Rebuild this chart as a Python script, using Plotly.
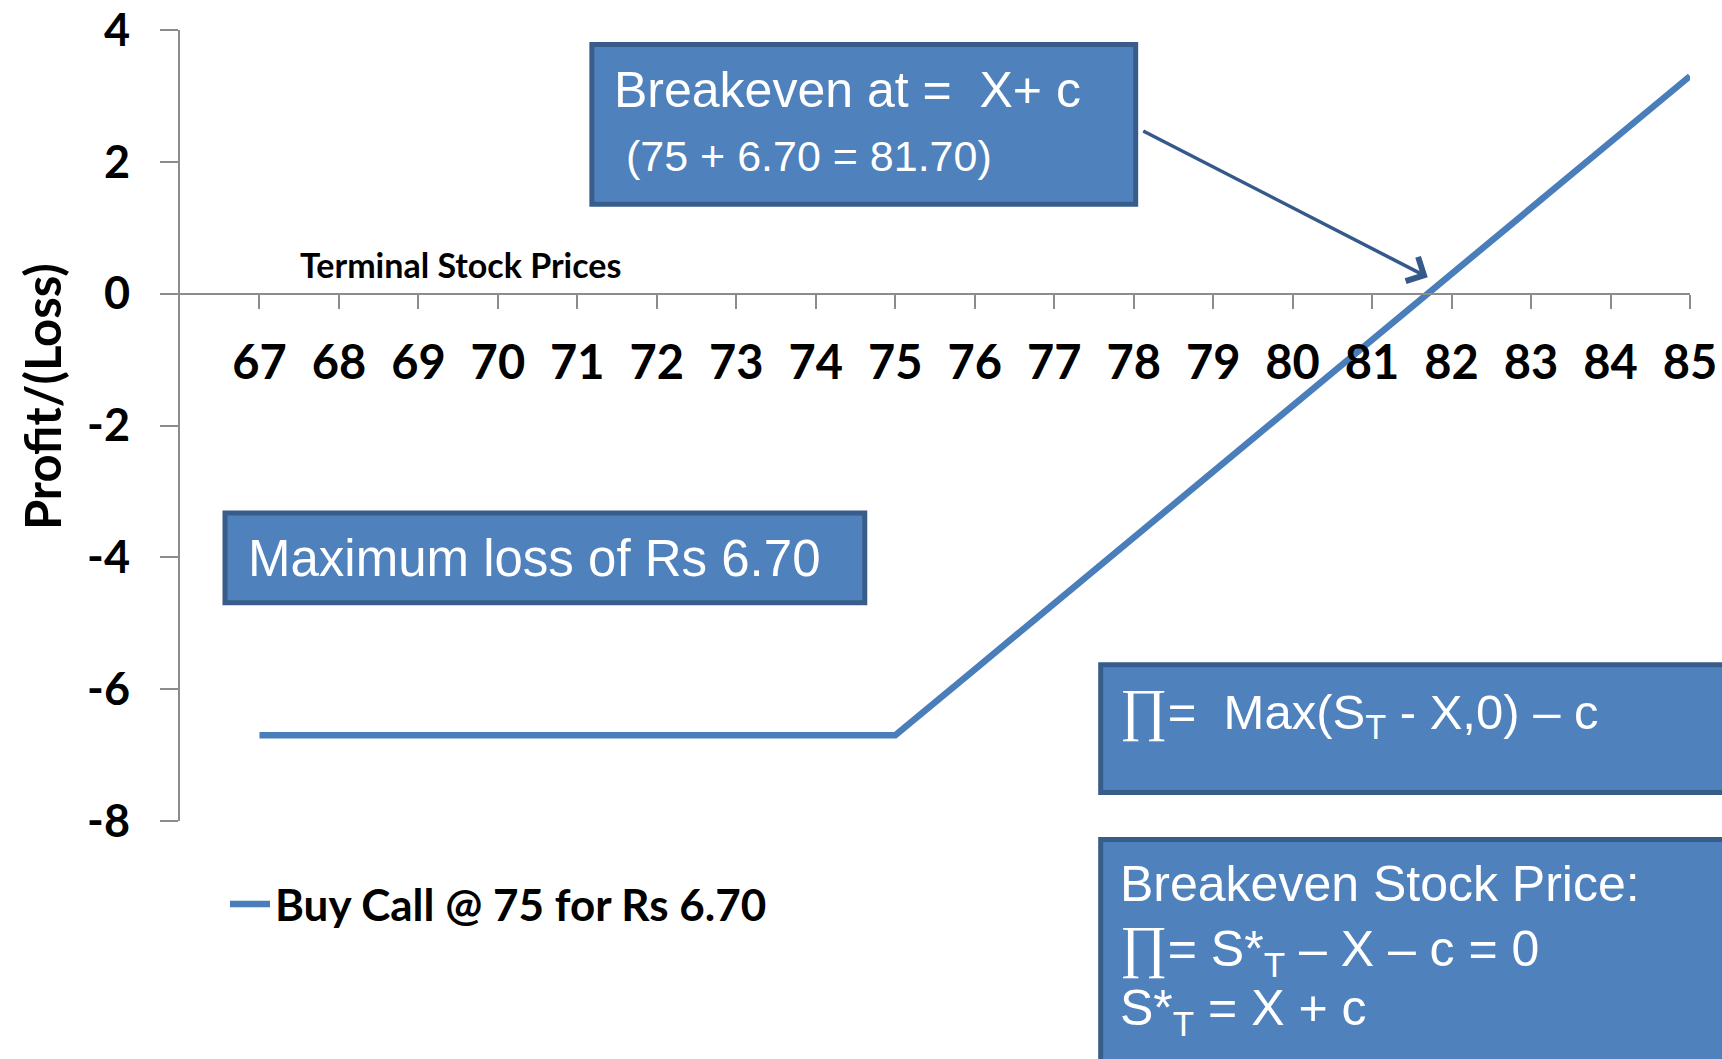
import plotly.graph_objects as go

# ---- data ----
terminal_prices = [67, 68, 69, 70, 71, 72, 73, 74, 75, 76, 77, 78, 79, 80, 81, 82, 83, 84, 85]
profit_loss = [-6.7, -6.7, -6.7, -6.7, -6.7, -6.7, -6.7, -6.7, -6.7,
               -5.7, -4.7, -3.7, -2.7, -1.7, -0.7, 0.3, 1.3, 2.3, 3.3]
y_ticks = [4, 2, 0, -2, -4, -6, -8]
series_name = "Buy Call @ 75 for Rs 6.70"

# ---- layout geometry (pixels) ----
W, H = 1722, 1059
PL, PR, PT, PB = 180, 1690.5, 29.5, 821.5   # plot area edges


def px(x):
    return (x - PL) / (PR - PL)


def py(y):
    return (PB - y) / (PB - PT)


BLUE = "#4a7ebb"
BOX_FILL = "#4f81bd"
BOX_LINE = "#385d8a"
ARROW = "#34598a"
BOLD_FONT = "Lato"
BOX_FONT = "Liberation Sans Narrow, Arial Narrow, Liberation Sans, sans-serif"
PI = '<span style="font-family:Liberation Serif;font-size:58px">∏</span>'

fig = go.Figure()
fig.add_trace(go.Scatter(
    x=terminal_prices, y=profit_loss, mode="lines", name=series_name,
    line=dict(color=BLUE, width=6.5), showlegend=True,
))

shapes = []
boxes = [(592, 44, 1136, 204), (225, 513, 865, 603), (1101, 665, 1740, 793), (1101, 840, 1740, 1075)]
for x0, y0, x1, y1 in boxes:
    shapes.append(dict(type="rect", xref="paper", yref="paper",
                       x0=px(x0), x1=px(x1), y0=py(y0), y1=py(y1),
                       fillcolor=BOX_FILL, line=dict(color=BOX_LINE, width=5), layer="above"))

ann = []


def text(x, y, s, size, font=BOX_FONT, color="white", anchor="left"):
    ann.append(dict(x=px(x), y=py(y), xref="paper", yref="paper", text=s, showarrow=False,
                    xanchor=anchor, yanchor="middle", font=dict(family=font, size=size, color=color)))


text(612, 90, "Breakeven at =  X+ c", 50)
text(624, 156, "(75 + 6.70 = 81.70)", 43)
text(246, 559, "Maximum loss of Rs 6.70", 51)
text(1118, 712, PI + "=  Max(S<sub>T</sub> - X,0) – c", 49)
text(1118, 885, "Breakeven Stock Price:", 50)
text(1118, 950, PI + "= S*<sub>T</sub> – X – c = 0", 50)
text(1118, 1012, "S*<sub>T</sub> = X + c", 50)
text(298, 264, "<b>Terminal Stock Prices</b>", 34, font=BOLD_FONT, color="black")

# y-axis title
ann.append(dict(x=px(42), y=py(397), xref="paper", yref="paper", text="<b>Profit/(Loss)</b>",
                showarrow=False, textangle=-90, xanchor="center", yanchor="middle",
                font=dict(family=BOLD_FONT, size=49, color="black")))

# arrow to breakeven point
ann.append(dict(x=81.7, y=0.25, xref="x", yref="y", ax=-286, ay=-147, axref="pixel", ayref="pixel",
                text="", showarrow=True, arrowhead=4, arrowsize=1.5, arrowwidth=3.5, arrowcolor=ARROW))

fig.update_layout(
    width=W, height=H,
    margin=dict(l=PL, r=W - PR, t=PT, b=H - PB, autoexpand=False),
    paper_bgcolor="white", plot_bgcolor="white",
    shapes=shapes, annotations=ann,
    showlegend=True,
    legend=dict(x=px(225), y=py(905), xanchor="left", yanchor="middle",
                font=dict(family=BOLD_FONT, size=44, color="black", weight="bold"),
                bgcolor="rgba(0,0,0,0)", itemwidth=40),
    font=dict(family=BOLD_FONT, color="black"),
)

fig.update_xaxes(
    range=[66, 85], tickvals=terminal_prices, ticktext=[f"<b>{v}</b>" for v in terminal_prices],
    showline=True, linecolor="#8c8c8c", linewidth=2,
    ticks="outside", ticklen=14, tickwidth=1.5, tickcolor="#8c8c8c",
    anchor="free", position=8 / 12, showgrid=False, zeroline=False, automargin=False,
    tickfont=dict(family=BOLD_FONT, size=47, color="black"), ticklabelstandoff=14,
)
fig.update_yaxes(
    range=[-8, 4], tickvals=y_ticks, ticktext=[f"<b>{v}</b>" for v in y_ticks],
    showline=True, linecolor="#8c8c8c", linewidth=2,
    ticks="outside", ticklen=18, tickwidth=1.5, tickcolor="#8c8c8c",
    showgrid=False, zeroline=False, automargin=False,
    tickfont=dict(family=BOLD_FONT, size=45, color="black"), ticklabelstandoff=21,
)

fig.write_html("out.html", config={"displayModeBar": False},
               post_script="document.body.style.margin='0';")
